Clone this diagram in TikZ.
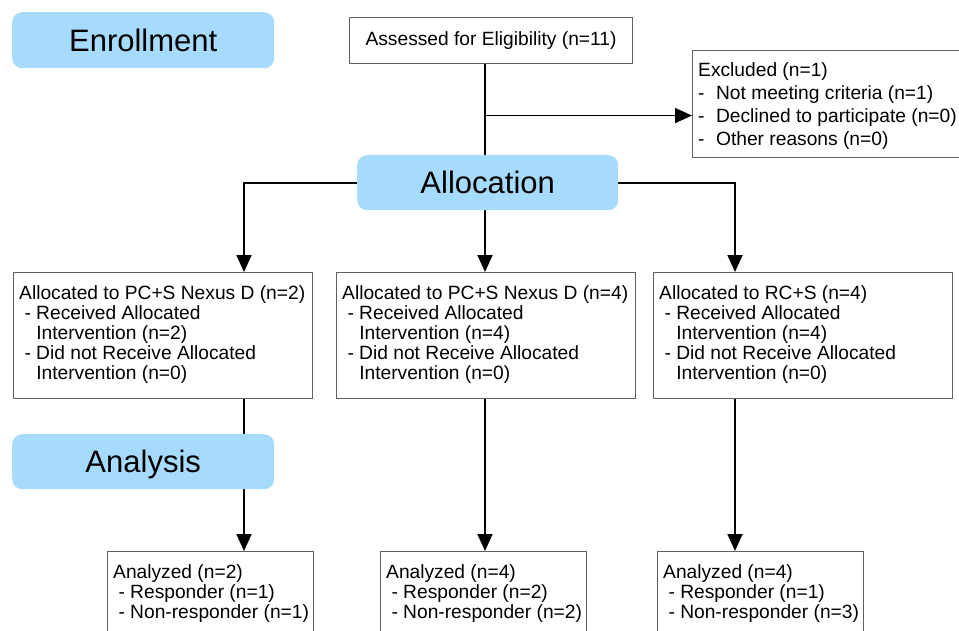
\documentclass[tikz,border=0pt]{standalone}
\usepackage{fontspec}
\setmainfont{Liberation Sans}
\usetikzlibrary{arrows.meta,calc,backgrounds}
\definecolor{phase}{RGB}{167,219,254}
\definecolor{boxline}{RGB}{95,95,95}
\begin{document}
\begin{tikzpicture}[x=1pt,y=-1pt,
  phasebox/.style={fill=phase, rounded corners=10pt, draw=none, inner sep=0pt,
    anchor=north west, font=\fontsize{31}{36}\selectfont, text height=22.5pt, text depth=0pt},
  flowbox/.style={draw=boxline, line width=1.1pt, inner sep=0pt, fill=white, anchor=north west},
  rowtext/.style={inner sep=0pt, anchor=north west, align=left, font=\fontsize{19.2}{20.2}\selectfont},
  exctext/.style={inner sep=0pt, anchor=north west, align=left, font=\fontsize{19.2}{23}\selectfont},
  anatext/.style={inner sep=0pt, anchor=north west, align=left, font=\fontsize{19.2}{20}\selectfont},
  conn/.style={line width=1.8pt, draw=black},
  arr/.style={conn, -{Triangle[width=15pt,length=17pt]}},
]
\useasboundingbox (0,0) rectangle (959,630);
\clip (0,0) rectangle (959,630);

% columns of the connectors
\coordinate (c1) at (244,0);
\coordinate (c2) at (485,0);
\coordinate (c3) at (735,0);

% phase labels
\node[phasebox, minimum width=262pt, minimum height=56pt] (enroll) at (12,12) {Enrollment};
\node[phasebox, minimum width=261pt, minimum height=55pt] (alloc) at (357,155) {Allocation};
\node[phasebox, minimum width=262pt, minimum height=55pt] (analysis) at (12,434) {Analysis};

% boxes
\node[flowbox, minimum width=283pt, minimum height=46pt, font=\fontsize{19.2}{20.2}\selectfont] (assess) at (349,17) {Assessed for Eligibility (n=11)};
\node[flowbox, minimum width=280pt, minimum height=107pt] (excl) at (692,50) {};
\node[exctext] (excltxt) at (698,62) {Excluded (n=1)\\-\hspace{11.5pt}Not meeting criteria (n=1)\\-\hspace{11.5pt}Declined to participate (n=0)\\-\hspace{11.5pt}Other reasons (n=0)};

\node[flowbox, minimum width=299pt, minimum height=126pt] (A1) at (13,272) {};
\node[flowbox, minimum width=299pt, minimum height=126pt] (A2) at (336,272) {};
\node[flowbox, minimum width=299pt, minimum height=126pt] (A3) at (653,272) {};
\node[rowtext] (A1t) at (19,285) {Allocated to PC+S Nexus D (n=2)\\\ - Received Allocated\\\ \hphantom{-}\ Intervention (n=2)\\\ - Did not Receive Allocated\\\ \hphantom{-}\ Intervention (n=0)};
\node[rowtext] (A2t) at (342,285) {Allocated to PC+S Nexus D (n=4)\\\ - Received Allocated\\\ \hphantom{-}\ Intervention (n=4)\\\ - Did not Receive Allocated\\\ \hphantom{-}\ Intervention (n=0)};
\node[rowtext] (A3t) at (659,285) {Allocated to RC+S (n=4)\\\ - Received Allocated\\\ \hphantom{-}\ Intervention (n=4)\\\ - Did not Receive Allocated\\\ \hphantom{-}\ Intervention (n=0)};

\node[flowbox, minimum width=206pt, minimum height=110pt] (N1) at (107,551) {};
\node[flowbox, minimum width=206pt, minimum height=110pt] (N2) at (380,551) {};
\node[flowbox, minimum width=206pt, minimum height=110pt] (N3) at (657,551) {};
\node[anatext] (N1t) at (113,564) {Analyzed (n=2)\\\ - Responder (n=1)\\\ - Non-responder (n=1)};
\node[anatext] (N2t) at (386,564) {Analyzed (n=4)\\\ - Responder (n=2)\\\ - Non-responder (n=2)};
\node[anatext] (N3t) at (663,564) {Analyzed (n=4)\\\ - Responder (n=1)\\\ - Non-responder (n=3)};

\coordinate (exin) at ([yshift=-11.5pt]excl.west);

\begin{scope}[on background layer]
  \draw[arr] (c2 |- assess.south) -- (c2 |- A2.north);
  \draw[arr] (c2 |- exin) -- (exin);
  \draw[arr] (alloc.west) -| (c1 |- A1.north);
  \draw[arr] (alloc.east) -| (c3 |- A3.north);
  \draw[arr] (c1 |- A1.south) -- (c1 |- N1.north);
  \draw[arr] (c2 |- A2.south) -- (c2 |- N2.north);
  \draw[arr] (c3 |- A3.south) -- (c3 |- N3.north);
\end{scope}
\end{tikzpicture}
\end{document}
